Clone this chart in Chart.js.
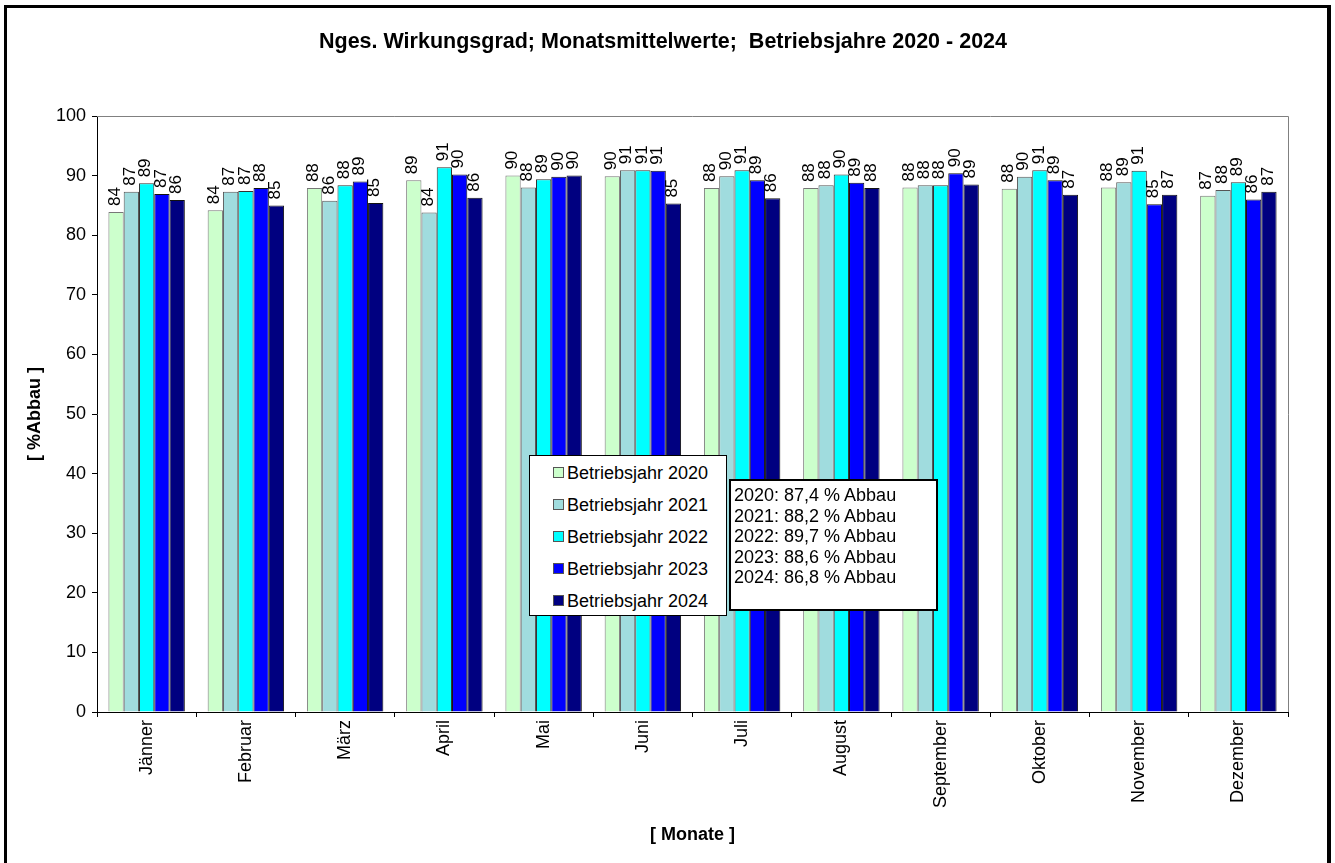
<!DOCTYPE html>
<html lang="de">
<head>
<meta charset="utf-8">
<title>Nges. Wirkungsgrad</title>
<script src="https://cdn.jsdelivr.net/npm/chart.js@4"></script>
<style>
  body { margin: 0; background: #fff; font-family: Arial, "Liberation Sans", sans-serif; }
  #wrap { position: relative; width: 1335px; height: 863px; overflow: hidden; }
  #frame {
    position: absolute; left: 4px; top: 5px; width: 1320px; height: 900px;
    border: 3px solid #000; border-right-width: 4px; pointer-events: none;
  }
  .box { position: absolute; background: #fff; color: #000; font-size: 18px; }
  #legend { left: 529px; top: 455px; width: 196px; height: 159px; border: 1px solid #000; }
  #legend .item { position: absolute; left: 23px; height: 22px; line-height: 22px; white-space: nowrap; }
  #legend .sw { display: inline-block; width: 9px; height: 9px; border: 1px solid #555; margin-right: 3px; vertical-align: 1px; }
  #stats { left: 729px; top: 479px; width: 205px; height: 128px; border: 2px solid #000; }
  #stats div { position: absolute; left: 3px; line-height: 20px; white-space: nowrap; }
</style>
</head>
<body>
<div id="wrap">
  <canvas id="chart" width="1335" height="863"></canvas>
  <div id="legend" class="box"></div>
  <div id="stats" class="box"></div>
  <div id="frame"></div>
</div>
<script>
// Monate und Monatsmittelwerte (% Abbau) je Betriebsjahr
const monate = ["Jänner", "Februar", "März", "April", "Mai", "Juni", "Juli", "August", "September", "Oktober", "November", "Dezember"];
const jahre = ["2020", "2021", "2022", "2023", "2024"];

const werte2020 = [83.9, 84.2, 87.9, 89.2, 90.0, 89.9, 87.9, 87.9, 88.0, 87.8, 88.0, 86.6];
const werte2021 = [87.3, 87.3, 85.8, 83.8, 88.0, 90.9, 89.9, 88.4, 88.4, 89.8, 88.9, 87.6];
const werte2022 = [88.7, 87.4, 88.4, 91.4, 89.4, 90.9, 90.9, 90.2, 88.4, 90.9, 90.8, 88.9];
const werte2023 = [86.9, 87.9, 89.0, 90.2, 89.8, 90.8, 89.2, 88.8, 90.4, 89.2, 85.2, 86.0];
const werte2024 = [85.9, 85.0, 85.4, 86.3, 90.0, 85.3, 86.2, 87.9, 88.5, 86.8, 86.8, 87.3];

const jahresmittel = ["87,4", "88,2", "89,7", "88,6", "86,8"];
const yTicks = [0, 10, 20, 30, 40, 50, 60, 70, 80, 90, 100];

const farben = ["#CCFFCC", "#A0DCDE", "#00FFFF", "#0000FF", "#000080"];
const rahmen = ["#777777", "#555555", "#333333", "#111111", "#111111"];
const alleWerte = [werte2020, werte2021, werte2022, werte2023, werte2024];

const FONT = "Arial, 'Liberation Sans', sans-serif";

const datasets = jahre.map((j, i) => ({
  label: "Betriebsjahr " + j,
  data: alleWerte[i],
  backgroundColor: farben[i],
  borderColor: rahmen[i],
  borderWidth: 1,
  borderSkipped: "bottom",
  categoryPercentage: 0.77,
  barPercentage: 1.0
}));

// Titel, Achsentitel, Plotrahmen und Datenbeschriftungen
const extras = {
  id: "extras",
  afterDatasetsDraw(chart) {
    const c = chart.ctx;
    const a = chart.chartArea;
    c.save();
    // grauer Rahmen oben/rechts
    c.strokeStyle = "#808080";
    c.lineWidth = 1;
    c.beginPath();
    c.moveTo(a.left, a.top + 0.5);
    c.lineTo(a.right + 0.5, a.top + 0.5);
    c.lineTo(a.right + 0.5, a.bottom);
    c.stroke();

    // Werte über den Balken
    c.fillStyle = "#000";
    c.font = "17px " + FONT;
    c.textAlign = "left";
    c.textBaseline = "middle";
    chart.data.datasets.forEach((ds, di) => {
      chart.getDatasetMeta(di).data.forEach((bar, k) => {
        c.save();
        c.translate(bar.x - 1, bar.y - 6);
        c.rotate(-Math.PI / 2);
        c.fillText(String(Math.round(ds.data[k])), 0, 0);
        c.restore();
      });
    });

    // Titel
    c.font = "bold 21.5px " + FONT;
    c.textAlign = "center";
    c.fillText("Nges. Wirkungsgrad; Monatsmittelwerte;  Betriebsjahre 2020 - 2024", 663, 42);
    c.font = "bold 18px " + FONT;
    c.fillText("[ Monate ]", (a.left + a.right) / 2, 835);
    c.save();
    c.translate(35, (a.top + a.bottom) / 2);
    c.rotate(-Math.PI / 2);
    c.fillText("[ %Abbau ]", 0, 0);
    c.restore();
    c.restore();
  }
};

new Chart(document.getElementById("chart"), {
  type: "bar",
  data: { labels: monate, datasets },
  options: {
    responsive: false,
    animation: false,
    layout: { padding: { left: 0, top: 116, right: 47, bottom: 51 } },
    plugins: { legend: { display: false }, tooltip: { enabled: false } },
    scales: {
      x: {
        grid: { display: true, drawOnChartArea: false, offset: true, tickLength: 5, color: "#000" },
        border: { color: "#000", width: 1 },
        ticks: { color: "#000", font: { family: FONT, size: 18 }, minRotation: 90, maxRotation: 90, padding: 3 },
        afterFit(s) { s.height = 100; }
      },
      y: {
        min: 0, max: 100,
        afterBuildTicks(s) { s.ticks = yTicks.map(v => ({ value: v })); },
        grid: { display: true, drawOnChartArea: false, tickLength: 5, color: "#000" },
        border: { color: "#000", width: 1 },
        ticks: { color: "#000", font: { family: FONT, size: 18 }, padding: 6 },
        afterFit(s) { s.width = 97; }
      }
    }
  },
  plugins: [extras]
});

// Legende und Jahresmittel als Textfelder
const legend = document.getElementById("legend");
jahre.forEach((j, i) => {
  const d = document.createElement("div");
  d.className = "item";
  d.style.top = (6 + i * 32) + "px";
  d.innerHTML = `<span class="sw" style="background:${farben[i]}"></span>Betriebsjahr ${j}`;
  legend.appendChild(d);
});
const stats = document.getElementById("stats");
jahre.forEach((j, i) => {
  const d = document.createElement("div");
  d.style.top = (4 + i * 20.5) + "px";
  d.textContent = `${j}: ${jahresmittel[i]} % Abbau`;
  stats.appendChild(d);
});
</script>
</body>
</html>
